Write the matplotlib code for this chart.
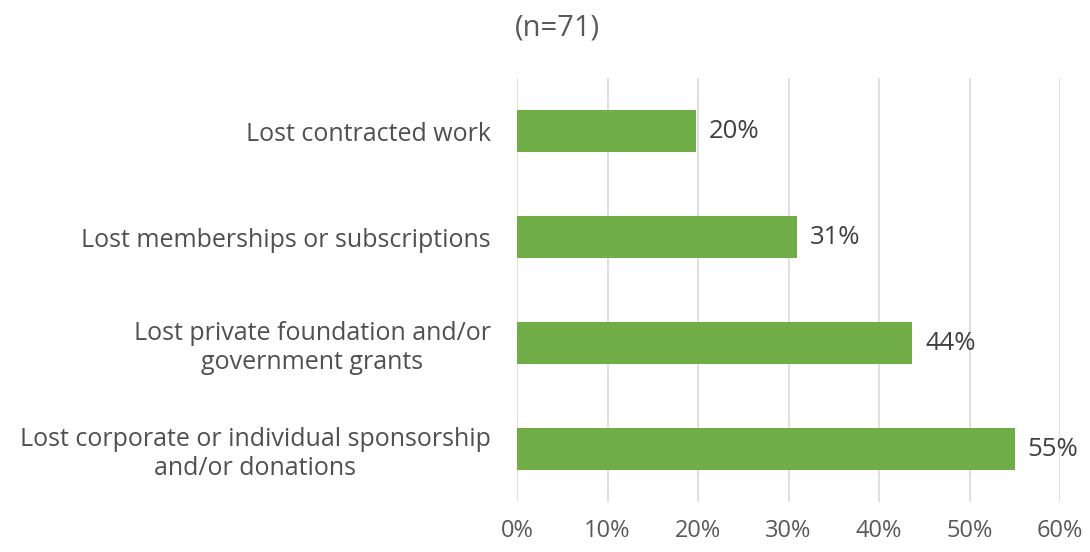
import matplotlib
matplotlib.use("Agg")
import matplotlib.pyplot as plt

categories = [
    "Lost contracted work",
    "Lost memberships or subscriptions",
    "Lost private foundation and/or\ngovernment grants",
    "Lost corporate or individual sponsorship\nand/or donations",
]
values = [19.8, 30.9, 43.7, 55.0]
labels = ["20%", "31%", "44%", "55%"]
xticks = [0, 10, 20, 30, 40, 50, 60]

plt.rcParams['font.family'] = ['Open Sans', 'DejaVu Sans']

fig = plt.figure(figsize=(10.9, 5.52), dpi=100)
ax = fig.add_axes([517 / 1090, 50 / 552, 543 / 1090, 424 / 552])

y = list(range(len(categories)))
ax.barh(y, values, height=0.4, color="#70AD47", zorder=3)
for yi, v, lab in zip(y, values, labels):
    ax.text(v + 1.4, yi, lab, va="center", ha="left", fontsize=18.5,
            color="#404040", fontweight="medium")

ax.set_xlim(0, 60)
ax.set_ylim(len(categories) - 0.5, -0.5)
ax.set_xticks(xticks)
ax.set_xticklabels([f"{t}%" for t in xticks], fontsize=17, color="#595959",
                   fontweight="medium")
ax.set_yticks(y)
ax.set_yticklabels(categories, fontsize=18, color="#505050", ha="right",
                   multialignment="center", fontweight="medium")
ax.tick_params(axis="both", length=0)
ax.tick_params(axis="x", pad=12)
ax.tick_params(axis="y", pad=19)
ax.grid(axis="x", color="#D9D9D9", linewidth=1.2, zorder=0)
for s in ax.spines.values():
    s.set_visible(False)

fig.text(515 / 1090, 1 - 28 / 552, "(n=71)", fontsize=21, color="#595959",
         va="center", ha="left", fontweight="medium")

fig.savefig("out.png", dpi=100)
